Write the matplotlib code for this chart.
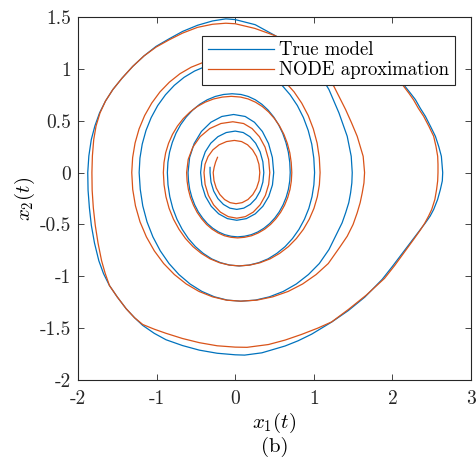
import matplotlib
matplotlib.use("Agg")
import matplotlib.pyplot as plt
from matplotlib.ticker import FixedLocator, FixedFormatter

plt.rcParams['mathtext.fontset'] = 'cm'
plt.rcParams['axes.unicode_minus'] = False

# True model trajectory points (x1, x2)
true_points = [
    (-0.32, 0.05), (-0.32, 0.0),
    (-0.308, -0.092), (-0.274, -0.178), (-0.220, -0.251), (-0.150, -0.307), (-0.068, -0.343), (0.02, -0.355),
    (0.109, -0.343), (0.192, -0.307), (0.263, -0.251), (0.318, -0.178), (0.352, -0.092), (0.364, 0.0),
    (0.352, 0.104), (0.317, 0.20), (0.260, 0.283), (0.187, 0.346), (0.102, 0.386), (0.0, 0.40),
    (-0.114, 0.386), (-0.22, 0.346), (-0.311, 0.283), (-0.381, 0.20), (-0.425, 0.104), (-0.44, 0.0),
    (-0.424, -0.119), (-0.378, -0.23), (-0.305, -0.325), (-0.21, -0.398), (-0.099, -0.444), (0.02, -0.46),
    (0.142, -0.444), (0.255, -0.398), (0.352, -0.325), (0.427, -0.23), (0.474, -0.119), (0.49, 0.0),
    (0.473, 0.145), (0.424, 0.28), (0.346, 0.396), (0.245, 0.485), (0.127, 0.541), (-0.02, 0.56),
    (-0.17, 0.541), (-0.31, 0.485), (-0.43, 0.396), (-0.522, 0.28), (-0.58, 0.145), (-0.60, 0.0),
    (-0.594, -0.081), (-0.579, -0.161), (-0.552, -0.237), (-0.516, -0.31), (-0.47, -0.378), (-0.415, -0.438),
    (-0.354, -0.492), (-0.285, -0.537), (-0.211, -0.573), (-0.133, -0.599), (-0.053, -0.614), (0.03, -0.62),
    (0.118, -0.614), (0.204, -0.599), (0.287, -0.573), (0.365, -0.537), (0.438, -0.492), (0.504, -0.438),
    (0.561, -0.378), (0.61, -0.31), (0.649, -0.237), (0.677, -0.161), (0.694, -0.081), (0.70, 0.0),
    (0.694, 0.10), (0.676, 0.197), (0.645, 0.291), (0.604, 0.38), (0.551, 0.463), (0.489, 0.537),
    (0.418, 0.603), (0.34, 0.658), (0.256, 0.702), (0.166, 0.734), (0.074, 0.753), (-0.04, 0.76),
    (-0.148, 0.753), (-0.253, 0.734), (-0.355, 0.702), (-0.452, 0.658), (-0.541, 0.603), (-0.622, 0.537),
    (-0.693, 0.463), (-0.753, 0.38), (-0.80, 0.291), (-0.835, 0.197), (-0.856, 0.10), (-0.863, 0.0),
    (-0.855, -0.118), (-0.832, -0.233), (-0.794, -0.345), (-0.741, -0.45), (-0.674, -0.548), (-0.596, -0.636),
    (-0.506, -0.714), (-0.407, -0.779), (-0.30, -0.832), (-0.186, -0.869), (-0.07, -0.892), (0.05, -0.90),
    (0.176, -0.892), (0.299, -0.869), (0.418, -0.832), (0.53, -0.779), (0.635, -0.714), (0.729, -0.636),
    (0.811, -0.548), (0.881, -0.45), (0.937, -0.345), (0.977, -0.233), (1.001, -0.118), (1.01, 0.0),
    (1.0, 0.139), (0.974, 0.274), (0.929, 0.406), (0.868, 0.53), (0.791, 0.646), (0.699, 0.75),
    (0.596, 0.841), (0.48, 0.918), (0.356, 0.979), (0.225, 1.024), (0.089, 1.05), (-0.08, 1.06),
    (-0.23, 1.05), (-0.376, 1.024), (-0.517, 0.979), (-0.651, 0.918), (-0.775, 0.841), (-0.887, 0.75),
    (-0.986, 0.646), (-1.069, 0.53), (-1.135, 0.406), (-1.183, 0.274), (-1.212, 0.139), (-1.222, 0.0),
    (-1.208, -0.162), (-1.176, -0.321), (-1.122, -0.475), (-1.047, -0.62), (-0.953, -0.755), (-0.842, -0.877),
    (-0.716, -0.983), (-0.575, -1.074), (-0.424, -1.146), (-0.264, -1.198), (-0.099, -1.23), (0.07, -1.24),
    (0.255, -1.23), (0.436, -1.198), (0.612, -1.146), (0.778, -1.074), (0.932, -0.983), (1.07, -0.877),
    (1.193, -0.742), (1.298, -0.581), (1.36, -0.485), (1.405, -0.388), (1.445, -0.29), (1.468, -0.196),
    (1.484, -0.1), (1.489, 0.0),
    (1.476, 0.157), (1.425, 0.35), (1.32, 0.575), (1.193, 0.80), (1.05, 0.98), (0.85, 1.15), (0.65, 1.26),
    (0.486, 1.33), (0.254, 1.426), (0.0, 1.475), (-0.12, 1.482),
    (-0.288, 1.462), (-0.48, 1.42), (-0.669, 1.361), (-0.84, 1.29), (-1.006, 1.217), (-1.16, 1.125),
    (-1.303, 1.024), (-1.44, 0.91), (-1.557, 0.80), (-1.65, 0.69), (-1.726, 0.575), (-1.785, 0.45),
    (-1.831, 0.318), (-1.862, 0.16), (-1.876, 0.0),
    (-1.872, -0.17), (-1.855, -0.34), (-1.83, -0.51), (-1.79, -0.68), (-1.735, -0.85), (-1.675, -0.975),
    (-1.6, -1.089), (-1.50, -1.20), (-1.387, -1.313), (-1.28, -1.40), (-1.176, -1.474), (-1.03, -1.55),
    (-0.88, -1.612), (-0.67, -1.668), (-0.457, -1.712), (-0.23, -1.742), (0.0, -1.757), (0.12, -1.76),
    (0.339, -1.738), (0.635, -1.672), (0.80, -1.622), (0.973, -1.558), (1.10, -1.50), (1.23, -1.44),
    (1.44, -1.33), (1.65, -1.20), (1.87, -1.03), (2.0, -0.905), (2.13, -0.775), (2.25, -0.655),
    (2.345, -0.56), (2.42, -0.485), (2.48, -0.42), (2.525, -0.356), (2.575, -0.26), (2.61, -0.164),
    (2.635, -0.08), (2.64, 0.0),
    (2.632, 0.08), (2.623, 0.157), (2.59, 0.25), (2.547, 0.35), (2.485, 0.445), (2.42, 0.542),
    (2.355, 0.62), (2.293, 0.703), (2.23, 0.765), (2.166, 0.826), (2.05, 0.95), (1.95, 1.05),
]

# NODE approximation trajectory points (x1, x2)
node_points = [
    (-0.225, 0.147), (-0.25, 0.10), (-0.268, 0.05), (-0.28, 0.0),
    (-0.27, -0.078), (-0.241, -0.15), (-0.195, -0.212), (-0.135, -0.26), (-0.065, -0.29), (0.01, -0.30),
    (0.088, -0.29), (0.162, -0.26), (0.224, -0.212), (0.272, -0.15), (0.303, -0.078), (0.313, 0.0),
    (0.302, 0.08), (0.271, 0.155), (0.221, 0.219), (0.157, 0.268), (0.081, 0.299), (-0.01, 0.31),
    (-0.11, 0.299), (-0.204, 0.268), (-0.284, 0.219), (-0.345, 0.155), (-0.384, 0.08), (-0.397, 0.0),
    (-0.383, -0.114), (-0.341, -0.22), (-0.275, -0.311), (-0.189, -0.381), (-0.088, -0.425), (0.02, -0.44),
    (0.129, -0.425), (0.23, -0.381), (0.317, -0.311), (0.384, -0.22), (0.426, -0.114), (0.44, 0.0),
    (0.425, 0.127), (0.38, 0.245), (0.308, 0.346), (0.215, 0.424), (0.107, 0.473), (-0.03, 0.49),
    (-0.182, 0.473), (-0.324, 0.424), (-0.446, 0.346), (-0.539, 0.245), (-0.598, 0.127), (-0.618, 0.0),
    (-0.612, -0.083), (-0.596, -0.163), (-0.569, -0.241), (-0.531, -0.315), (-0.484, -0.384), (-0.428, -0.445),
    (-0.365, -0.50), (-0.294, -0.546), (-0.218, -0.582), (-0.138, -0.609), (-0.055, -0.624), (0.03, -0.63),
    (0.12, -0.624), (0.209, -0.609), (0.294, -0.582), (0.375, -0.546), (0.45, -0.50), (0.518, -0.445),
    (0.577, -0.384), (0.628, -0.315), (0.668, -0.241), (0.697, -0.163), (0.714, -0.083), (0.72, 0.0),
    (0.713, 0.096), (0.695, 0.19), (0.663, 0.282), (0.62, 0.368), (0.565, 0.448), (0.50, 0.52),
    (0.427, 0.583), (0.345, 0.637), (0.257, 0.679), (0.164, 0.71), (0.068, 0.728), (-0.05, 0.735),
    (-0.163, 0.728), (-0.274, 0.71), (-0.381, 0.679), (-0.482, 0.637), (-0.576, 0.583), (-0.661, 0.52),
    (-0.735, 0.448), (-0.798, 0.368), (-0.848, 0.282), (-0.885, 0.19), (-0.906, 0.096), (-0.914, 0.0),
    (-0.905, -0.118), (-0.881, -0.233), (-0.841, -0.345), (-0.785, -0.45), (-0.714, -0.548), (-0.632, -0.636),
    (-0.537, -0.714), (-0.432, -0.779), (-0.319, -0.832), (-0.20, -0.869), (-0.076, -0.892), (0.05, -0.90),
    (0.185, -0.892), (0.317, -0.869), (0.444, -0.832), (0.565, -0.779), (0.677, -0.714), (0.778, -0.636),
    (0.867, -0.548), (0.942, -0.45), (1.002, -0.345), (1.045, -0.233), (1.071, -0.118), (1.08, 0.0),
    (1.07, 0.144), (1.042, 0.285), (0.994, 0.421), (0.929, 0.55), (0.846, 0.67), (0.749, 0.778),
    (0.638, 0.872), (0.515, 0.953), (0.383, 1.016), (0.243, 1.062), (0.098, 1.09), (-0.09, 1.10),
    (-0.251, 1.09), (-0.408, 1.062), (-0.56, 1.016), (-0.703, 0.953), (-0.837, 0.872), (-0.957, 0.778),
    (-1.062, 0.67), (-1.152, 0.55), (-1.223, 0.421), (-1.274, 0.285), (-1.305, 0.144), (-1.316, 0.0),
    (-1.304, -0.162), (-1.269, -0.321), (-1.211, -0.475), (-1.13, -0.62), (-1.029, -0.755), (-0.91, -0.877),
    (-0.774, -0.983), (-0.623, -1.074), (-0.461, -1.146), (-0.289, -1.198), (-0.112, -1.23), (0.07, -1.24),
    (0.276, -1.23), (0.478, -1.198), (0.674, -1.146), (0.858, -1.074), (1.03, -0.983), (1.184, -0.877),
    (1.33, -0.72), (1.425, -0.614), (1.50, -0.50), (1.552, -0.388), (1.59, -0.29), (1.616, -0.196),
    (1.638, -0.1), (1.646, 0.0),
    (1.628, 0.157), (1.552, 0.35), (1.48, 0.48), (1.405, 0.607), (1.256, 0.831), (1.05, 1.03),
    (0.80, 1.2), (0.508, 1.32), (0.25, 1.39), (0.0, 1.435), (-0.12, 1.44),
    (-0.288, 1.43), (-0.48, 1.40), (-0.669, 1.345), (-0.84, 1.28), (-1.006, 1.21), (-1.16, 1.125),
    (-1.303, 1.024), (-1.44, 0.91), (-1.557, 0.80), (-1.65, 0.69), (-1.72, 0.575), (-1.77, 0.45),
    (-1.80, 0.318), (-1.817, 0.16), (-1.823, 0.0),
    (-1.82, -0.17), (-1.805, -0.34), (-1.78, -0.51), (-1.745, -0.68), (-1.70, -0.85), (-1.655, -0.97),
    (-1.6, -1.089), (-1.50, -1.20), (-1.387, -1.313), (-1.28, -1.40), (-1.176, -1.465), (-1.03, -1.51),
    (-0.88, -1.55), (-0.67, -1.60), (-0.457, -1.64), (-0.23, -1.67), (0.0, -1.683), (0.15, -1.685),
    (0.423, -1.658), (0.635, -1.615), (0.846, -1.56), (1.05, -1.50), (1.227, -1.44), (1.44, -1.32),
    (1.67, -1.18), (1.90, -1.02), (2.03, -0.895), (2.155, -0.765), (2.27, -0.645), (2.35, -0.56),
    (2.41, -0.49), (2.46, -0.42), (2.50, -0.356), (2.54, -0.26), (2.562, -0.164), (2.576, -0.08),
    (2.58, 0.0),
    (2.58, 0.08), (2.576, 0.157), (2.555, 0.25), (2.525, 0.35), (2.465, 0.445), (2.398, 0.542),
    (2.33, 0.62), (2.27, 0.70), (2.21, 0.765), (2.149, 0.826), (2.03, 0.95), (1.93, 1.05),
]

x_ticks = [-2, -1, 0, 1, 2, 3]
x_tick_labels = ['-2', '-1', '0', '1', '2', '3']
y_ticks = [-2, -1.5, -1, -0.5, 0, 0.5, 1, 1.5]
y_tick_labels = ['-2', '-1.5', '-1', '-0.5', '0', '0.5', '1', '1.5']

true_x1, true_x2 = zip(*true_points)
node_x1, node_x2 = zip(*node_points)

blue = '#0072BD'
orange = '#D95319'
axcol = '#262626'

fig = plt.figure(figsize=(4.76, 4.66), dpi=100)
ax = fig.add_axes([78/476, 1 - 380/466, 393/476, 363/466])

ax.plot(true_x1, true_x2, color=blue, lw=0.9, label='True model',
        solid_joinstyle='round')
ax.plot(node_x1, node_x2, color=orange, lw=0.9, label='NODE aproximation',
        solid_joinstyle='round')

ax.set_xlim(-2, 3)
ax.set_ylim(-2, 1.5)
ax.xaxis.set_major_locator(FixedLocator(x_ticks))
ax.xaxis.set_major_formatter(FixedFormatter(x_tick_labels))
ax.yaxis.set_major_locator(FixedLocator(y_ticks))
ax.yaxis.set_major_formatter(FixedFormatter(y_tick_labels))
ax.tick_params(direction='in', length=4, width=0.6, colors=axcol,
               top=True, right=True, labelsize=14)
ax.tick_params(axis='x', pad=7)
ax.tick_params(axis='y', pad=5)
for lab in ax.get_xticklabels() + ax.get_yticklabels():
    lab.set_fontfamily('cmr10')
for s in ax.spines.values():
    s.set_color(axcol)
    s.set_linewidth(0.8)

ax.set_xlabel('$x_1(t)$', fontsize=15, labelpad=2)
ax.set_ylabel('$x_2(t)$', fontsize=15, labelpad=2)
fig.text(ax.get_position().x0 + ax.get_position().width / 2, 1 - 447/466, '(b)',
         fontsize=15, family='cmr10', ha='center', va='center')

leg = ax.legend(loc='upper right', bbox_to_anchor=(0.959, 0.948), borderaxespad=0,
                prop={'family': 'cmr10', 'size': 13.5}, fancybox=False,
                edgecolor=axcol, framealpha=1, handlelength=3.5,
                handletextpad=0.3, labelspacing=0.1, borderpad=0.3)
leg.get_frame().set_linewidth(0.8)

fig.savefig('out.png', dpi=100)
